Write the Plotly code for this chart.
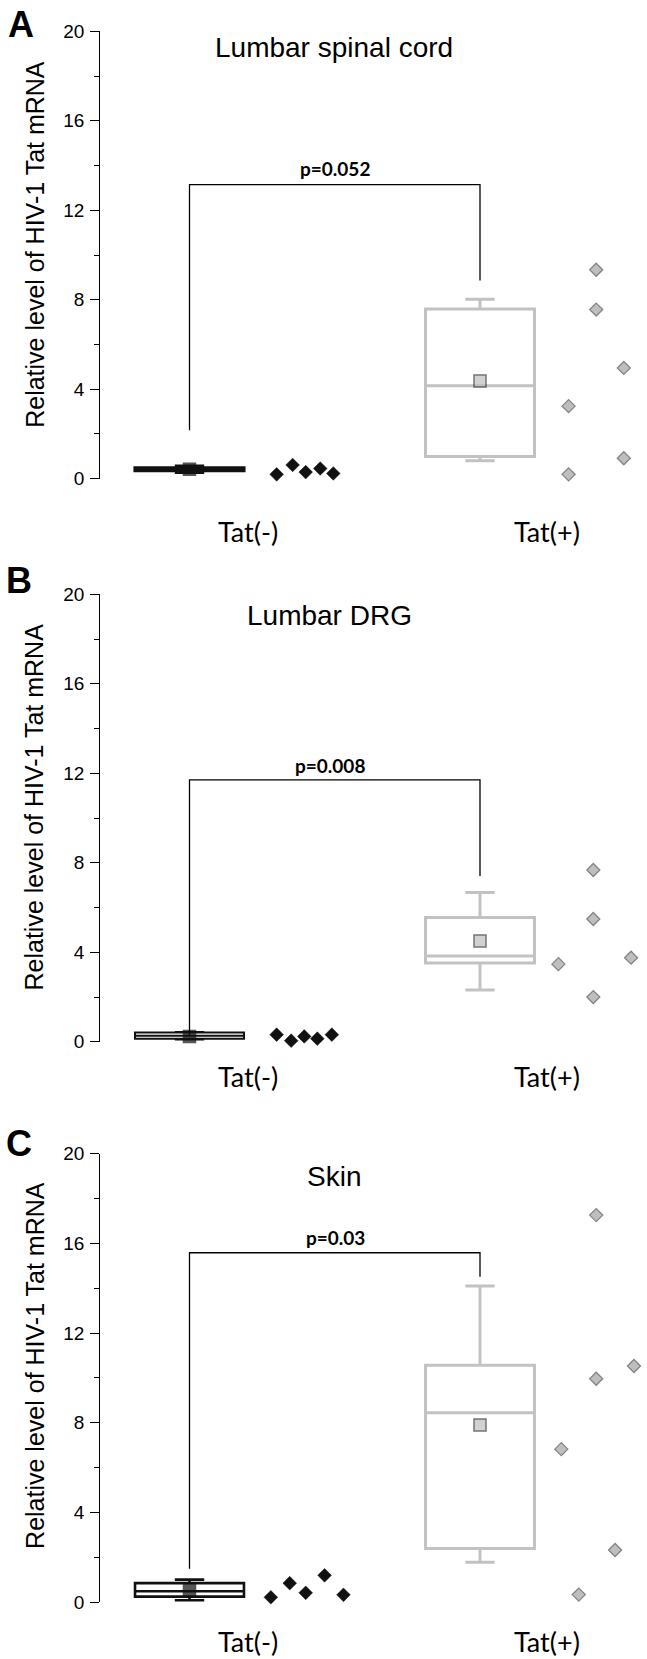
import plotly.graph_objects as go

# ---------------- data ----------------
groups = ["Tat(-)", "Tat(+)"]
panel_letters = ["A", "B", "C"]
panel_titles = ["Lumbar spinal cord", "Lumbar DRG", "Skin"]
p_labels = ["p=0.052", "p=0.008", "p=0.03"]
y_title = "Relative level of HIV-1 Tat mRNA"
y_ticks = [0, 4, 8, 12, 16, 20]

# individual animals
A_neg_vals = [0.19, 0.61, 0.29, 0.45, 0.23]
A_pos_vals = [9.34, 7.56, 4.95, 3.24, 0.91, 0.19]
B_neg_vals = [0.32, 0.05, 0.24, 0.14, 0.32]
B_pos_vals = [7.68, 5.49, 3.47, 3.76, 2.00]
C_neg_vals = [0.21, 0.84, 0.41, -0.07, 1.19, 0.32]
C_pos_vals = [17.26, 10.53, 9.96, 6.82, 2.32, 0.33]

# box statistics  [Tat(-), Tat(+)]
A_q1 = [0.35, 0.99];  A_med = [0.42, 4.15];  A_q3 = [0.48, 7.59]
A_lo = [0.28, 0.80];  A_hi = [0.56, 8.02];   A_mean = [0.42, 4.36]
B_q1 = [0.14, 3.52];  B_med = [0.27, 3.84];  B_q3 = [0.42, 5.55]
B_lo = [0.10, 2.32];  B_hi = [0.44, 6.67];   B_mean = [0.24, 4.51]
C_q1 = [0.24, 2.39];  C_med = [0.48, 8.44];  C_q3 = [0.84, 10.56]
C_lo = [0.08, 1.77];  C_hi = [1.00, 14.10];  C_mean = [0.50, 7.90]

# significance brackets: [top, left end, right end]
A_bracket = [13.15, 2.16, 8.86]
B_bracket = [11.71, 0.27, 7.41]
C_bracket = [15.58, 1.48, 14.51]

# ---------------- layout helpers (positions / styles) ----------------
A_neg_jit = [0.30, 0.355, 0.40, 0.45, 0.495]
A_pos_jit = [0.40, 0.40, 0.495, 0.305, 0.495, 0.305]
B_neg_jit = [0.30, 0.35, 0.395, 0.44, 0.49]
B_pos_jit = [0.39, 0.39, 0.27, 0.52, 0.39]
C_neg_jit = [0.28, 0.345, 0.40, 0.40, 0.465, 0.53]
C_pos_jit = [0.40, 0.53, 0.40, 0.28, 0.465, 0.34]

W, H = 647, 1659
X_LEFT, X_RIGHT = 100.3, 647
G0_PX, UNIT_PX = 189.5, 290.5
# pixel rows of y=20 (top) and y=0 (bottom) for each panel
panel_px = [(31.4, 478.6), (594.3, 1041.8), (1153.7, 1602.0)]
x_range = [(X_LEFT - G0_PX) / UNIT_PX, (X_RIGHT - G0_PX) / UNIT_PX]

title_pos = [(334, 47.5), (330, 615), (334, 1176)]
p_pos = [(335, 169), (330, 765), (335, 1237)]
cat_y = [531, 1076, 1641]
cat_x = [247.6, 546.7]
letter_pos = [(21, 25), (19, 580), (19, 1143)]
ylab_x = 34.2
ylab_y = [244.6, 807.3, 1365.7]
neg_box_lw = [3.2, 2.0, 2.6]

NEG_COL = "#111111"
POS_FILL = "#bebebe"
POS_EDGE = "#858585"
POS_BOX = "#c2c2c2"

panels = [
    dict(neg=A_neg_vals, pos=A_pos_vals, nj=A_neg_jit, pj=A_pos_jit,
         q1=A_q1, med=A_med, q3=A_q3, lo=A_lo, hi=A_hi, mean=A_mean, br=A_bracket),
    dict(neg=B_neg_vals, pos=B_pos_vals, nj=B_neg_jit, pj=B_pos_jit,
         q1=B_q1, med=B_med, q3=B_q3, lo=B_lo, hi=B_hi, mean=B_mean, br=B_bracket),
    dict(neg=C_neg_vals, pos=C_pos_vals, nj=C_neg_jit, pj=C_pos_jit,
         q1=C_q1, med=C_med, q3=C_q3, lo=C_lo, hi=C_hi, mean=C_mean, br=C_bracket),
]

def py(px):
    return 1 - px / H

def pxx(px):
    return px / W

fig = go.Figure()
annotations = []
layout_axes = {}

for i, p in enumerate(panels):
    sfx = "" if i == 0 else str(i + 1)
    xa, ya = "x" + sfx, "y" + sfx
    top_px, bot_px = panel_px[i]

    layout_axes["xaxis" + sfx] = dict(
        domain=[pxx(X_LEFT), pxx(X_RIGHT)], range=x_range, anchor=ya,
        showline=False, showgrid=False, zeroline=False, ticks="",
        showticklabels=False, fixedrange=True)
    layout_axes["yaxis" + sfx] = dict(
        domain=[py(bot_px), py(top_px)], range=[0, 20], anchor=xa,
        tickvals=y_ticks, ticks="outside", ticklen=9, tickwidth=1.3,
        tickcolor="black", showline=True, linecolor="black", linewidth=1.3,
        showgrid=False, zeroline=False, ticklabelstandoff=2,
        tickfont=dict(family="Liberation Sans, Arial", size=19, color="black"),
        minor=dict(dtick=2, ticks="outside", ticklen=5, tickwidth=1.3,
                   tickcolor="black", showgrid=False),
        fixedrange=True)

    # significance bracket
    top, le, re = p["br"]
    fig.add_trace(go.Scatter(x=[0, 0, 1, 1], y=[le, top, top, re], mode="lines",
                             line=dict(color="black", width=1.3),
                             xaxis=xa, yaxis=ya, showlegend=False, hoverinfo="skip"))

    # boxes
    for g in range(2):
        fig.add_trace(go.Box(
            x=[g], q1=[p["q1"][g]], median=[p["med"][g]], q3=[p["q3"][g]],
            lowerfence=[p["lo"][g]], upperfence=[p["hi"][g]],
            width=0.375, whiskerwidth=0.27, boxpoints=False,
            fillcolor="white",
            line=dict(color=NEG_COL if g == 0 else POS_BOX,
                      width=neg_box_lw[i] if g == 0 else 3),
            xaxis=xa, yaxis=ya, showlegend=False, name=groups[g]))

    # means
    fig.add_trace(go.Scatter(
        x=[0, 1], y=p["mean"], mode="markers", cliponaxis=False,
        marker=dict(symbol="square", size=[12, 12], color=[NEG_COL, POS_FILL],
                    line=dict(color=[NEG_COL, "#3a3a3a"], width=1.5)),
        xaxis=xa, yaxis=ya, showlegend=False))

    # individual points
    fig.add_trace(go.Scatter(
        x=[0 + j for j in p["nj"]], y=p["neg"], mode="markers", cliponaxis=False,
        marker=dict(symbol="diamond", size=10.5, color=NEG_COL,
                    line=dict(color=NEG_COL, width=0.5)),
        xaxis=xa, yaxis=ya, showlegend=False, name=groups[0]))
    fig.add_trace(go.Scatter(
        x=[1 + j for j in p["pj"]], y=p["pos"], mode="markers", cliponaxis=False,
        marker=dict(symbol="diamond", size=10, color=POS_FILL,
                    line=dict(color=POS_EDGE, width=1.3)),
        xaxis=xa, yaxis=ya, showlegend=False, name=groups[1]))

    # texts
    tx, ty = title_pos[i]
    annotations.append(dict(text=panel_titles[i], x=pxx(tx), y=py(ty), xref="paper",
                            yref="paper", showarrow=False, xanchor="center", yanchor="middle",
                            font=dict(family="Liberation Sans, Arial", size=28, color="black")))
    ptx, pty = p_pos[i]
    annotations.append(dict(text="<b>" + p_labels[i] + "</b>", x=pxx(ptx), y=py(pty),
                            xref="paper", yref="paper", showarrow=False,
                            xanchor="center", yanchor="middle",
                            font=dict(family="Lato, Open Sans", size=19, color="black")))
    for g in range(2):
        annotations.append(dict(text=groups[g], x=pxx(cat_x[g]), y=py(cat_y[i]),
                                xref="paper", yref="paper", showarrow=False,
                                xanchor="center", yanchor="middle",
                                font=dict(family="Lato, Open Sans", size=27, color="black")))
    lx, ly = letter_pos[i]
    annotations.append(dict(text="<b>" + panel_letters[i] + "</b>", x=pxx(lx), y=py(ly),
                            xref="paper", yref="paper", showarrow=False,
                            xanchor="center", yanchor="middle",
                            font=dict(family="Liberation Sans, Arial", size=36, color="black")))
    annotations.append(dict(text=y_title, x=pxx(ylab_x), y=py(ylab_y[i]), xref="paper",
                            yref="paper", showarrow=False, textangle=-90,
                            xanchor="center", yanchor="middle",
                            font=dict(family="Liberation Sans, Arial", size=25, color="black")))

fig.update_layout(
    width=W, height=H,
    margin=dict(l=0, r=0, t=0, b=0, autoexpand=False),
    paper_bgcolor="white", plot_bgcolor="white",
    boxmode="overlay", showlegend=False,
    annotations=annotations,
    **layout_axes,
)

fig.write_html("out.html", config={"displayModeBar": False},
               post_script="document.body.style.margin='0';document.body.style.overflow='hidden';")
